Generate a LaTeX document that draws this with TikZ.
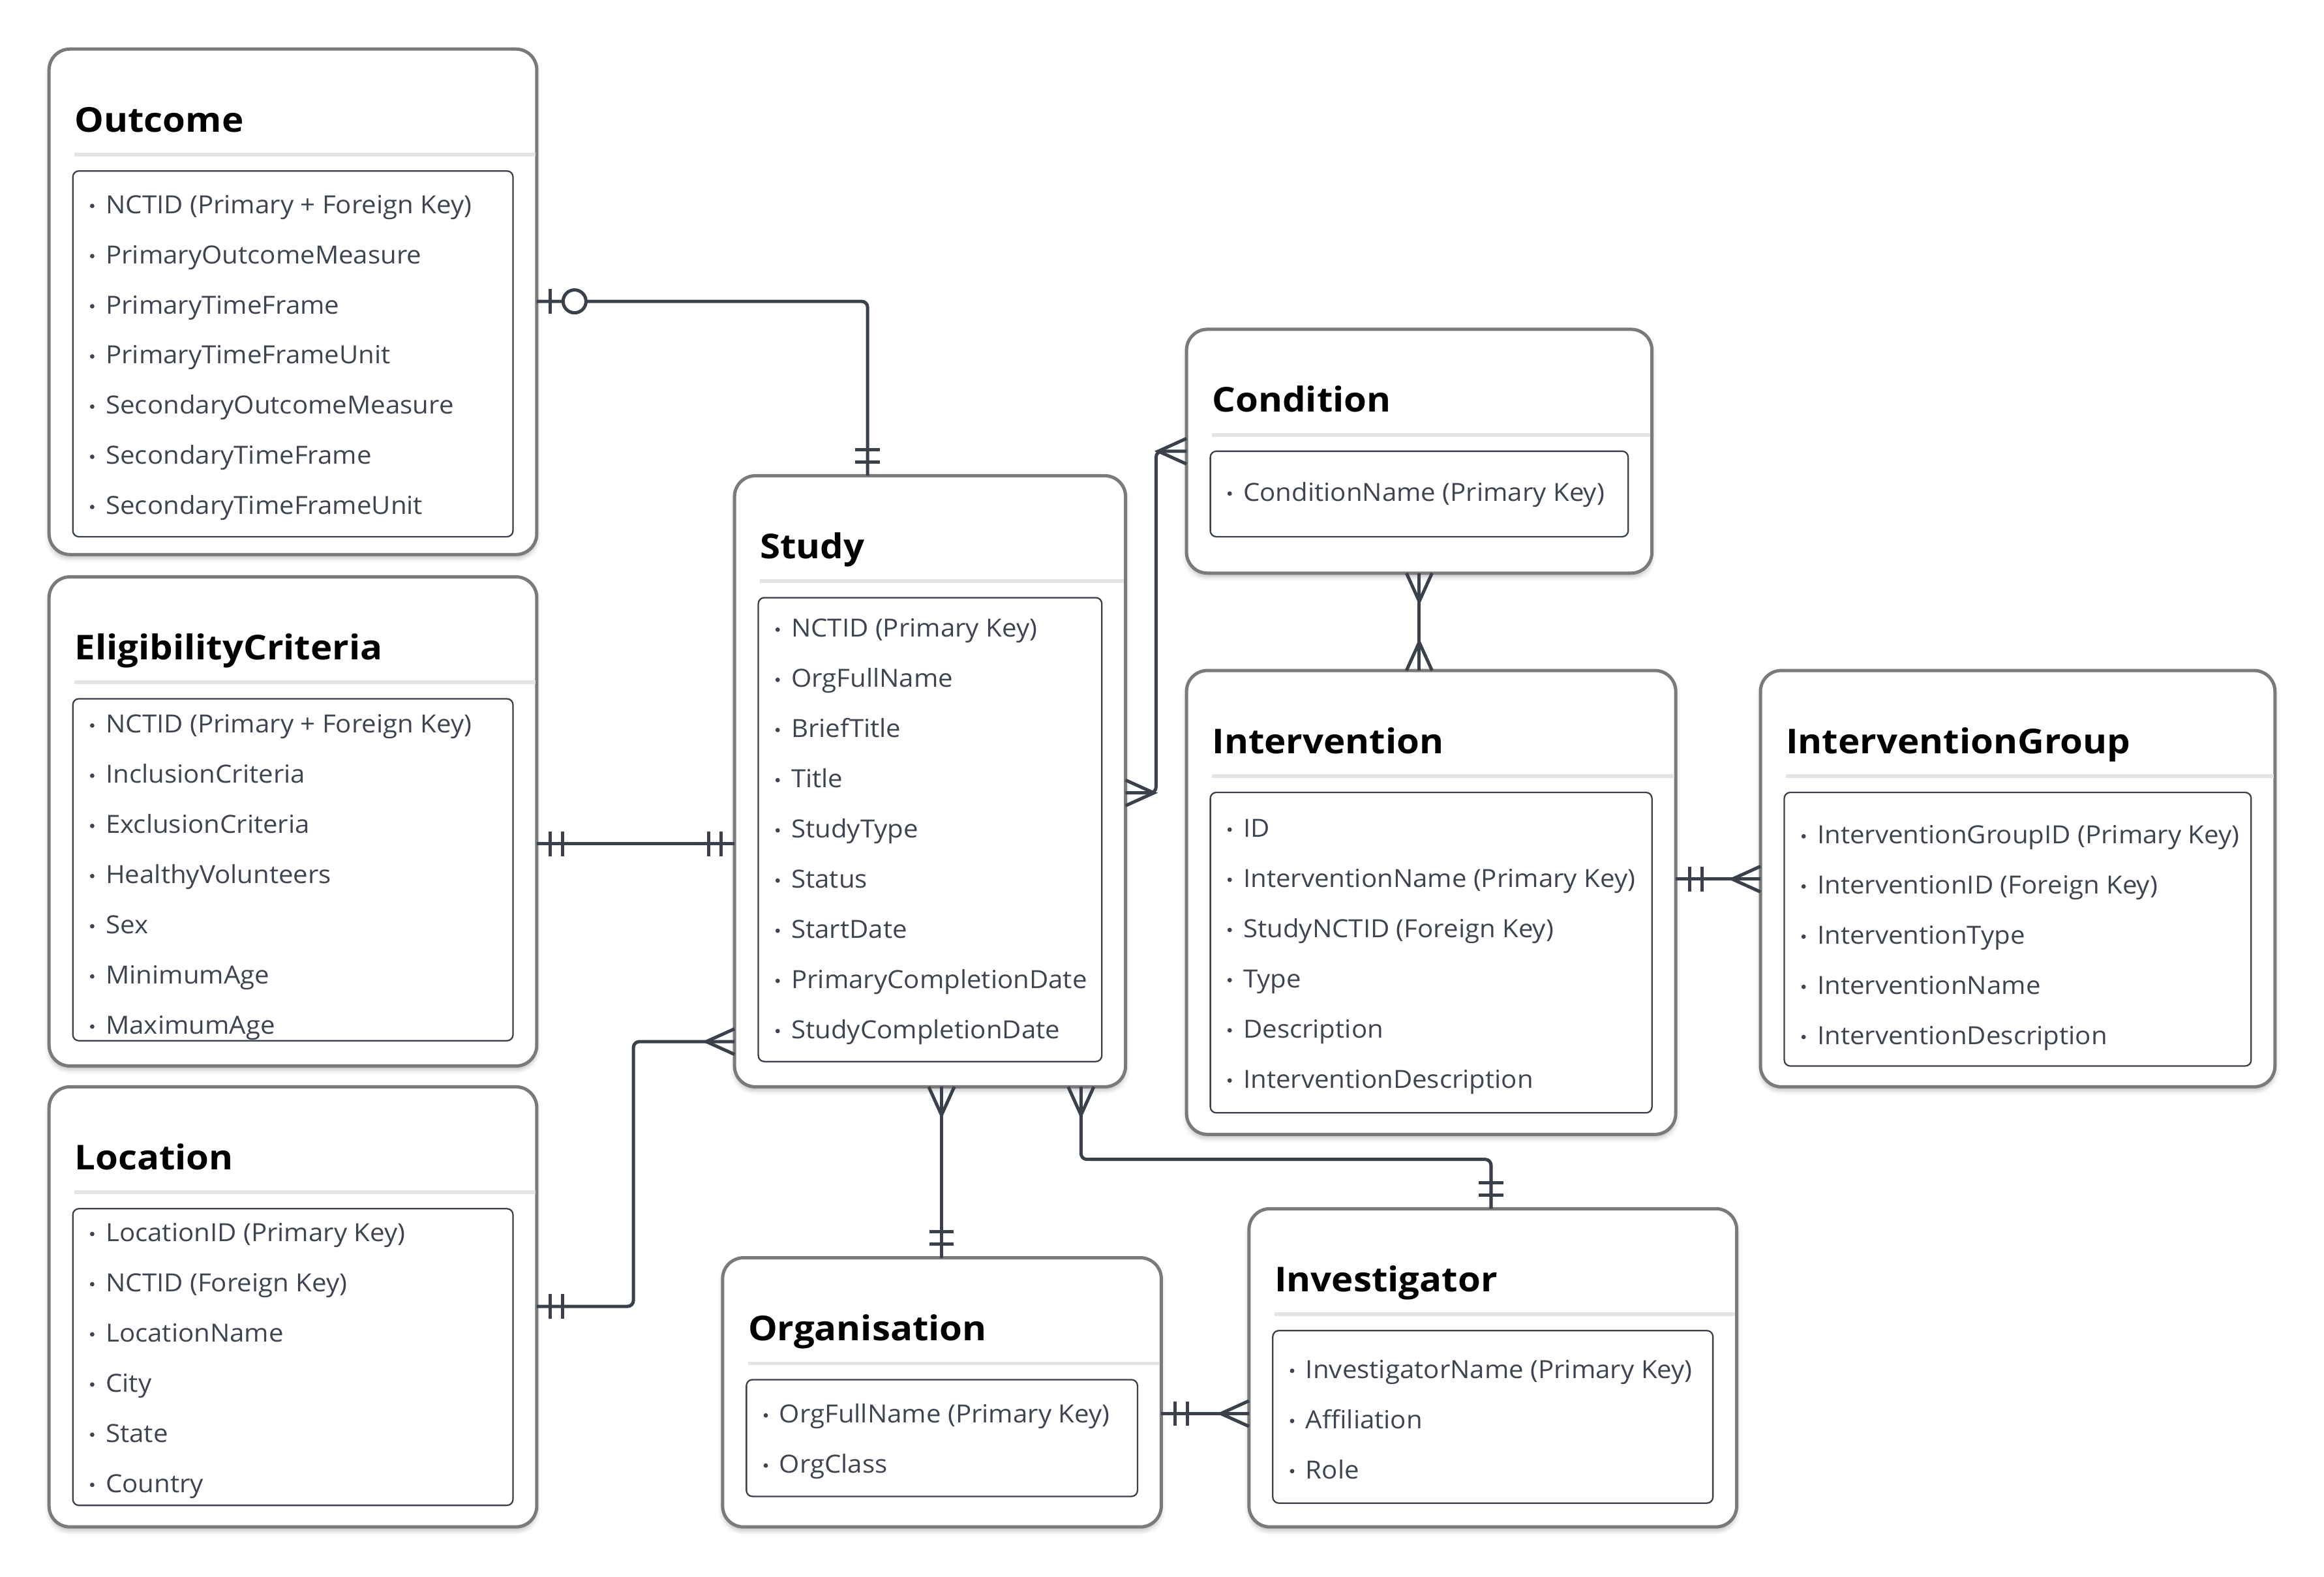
\documentclass[tikz,border=0pt]{standalone}
\usepackage{fontspec}
\setmainfont{Open Sans}
\newfontfamily\fieldfont{Open Sans}[FakeStretch=1.05]
\newfontfamily\headfont{Open Sans}[FakeStretch=1.075]
\usepackage{tikz}
\usetikzlibrary{calc,shadows.blur}

\definecolor{boxgray}{HTML}{7A7A7A}
\definecolor{linedark}{HTML}{3B414B}
\definecolor{sepgray}{HTML}{E4E4E4}
\definecolor{itemgray}{HTML}{3E4450}

\tikzset{
	entity/.style={draw=boxgray, line width=2.2pt, rounded corners=14pt, fill=white,
			inner sep=0pt, outer sep=0pt, anchor=north west,
			blur shadow={shadow xshift=0pt, shadow yshift=-2.5pt, shadow blur radius=3pt, shadow opacity=25}},
	fields/.style={draw=linedark, line width=1pt, rounded corners=4pt, fill=white,
			inner sep=0pt, outer sep=0pt, anchor=north west},
	etitle/.style={anchor=base west, inner sep=0pt, font=\headfont\fontsize{23}{27}\selectfont\bfseries},
	field/.style={anchor=base west, inner sep=0pt, text=itemgray, font=\fieldfont\fontsize{16.8}{20}\selectfont},
	sepline/.style={draw=sepgray, line width=2.5pt},
	rel/.style={draw=linedark, line width=2.2pt, rounded corners=4pt},
	relmark/.style={draw=linedark, line width=2.2pt},
	onebar/.pic={\draw[relmark] (9.2,-8.3) -- (9.2,8.3) (17.5,-8.3) -- (17.5,8.3);},
	crow/.pic={\draw[relmark] (0,-8.6) -- (19,0) -- (0,8.6);},
	zeroone/.pic={\draw[relmark] (9.2,-8.3) -- (9.2,8.3); \draw[relmark, fill=white] (25.4,0) circle (7.7);}
}

% #1 name, #2 title, #3-#6 box, #7 bottom of field box, #8 first field, #9 fields
\newcommand{\entity}[9]{%
	\node[entity, minimum width={#5-#3}, minimum height={#6-#4}] (#1) at (#3,#4) {};
	\draw[sepline] ({#3+17},{#4+71}) -- ({#5-1},{#4+71});
	\node[etitle] (#1-t) at ({#3+17},{#4+55.7}) {#2};
	\node[fields, minimum width={#5-#3-32}, minimum height={#7-#4-82}] (#1-f) at ({#3+16},{#4+82}) {};
	\foreach \txt [count=\i] in {#9} {
		\fill[itemgray] ({#3+29},{#8+(\i-1)*33.75+1}) circle (1.5);
		\node[field] (#1-\i) at ({#3+38},{#8+(\i-1)*33.75+6}) {\txt};
	}
}

\begin{document}
\begin{tikzpicture}[x=1pt, y=-1pt]

\useasboundingbox (0,0) rectangle (1563,1060.3);

% Nodes
\entity{outcome}{Outcome}{33}{33}{361}{373}{361}{137.5}{NCTID (Primary + Foreign Key), PrimaryOutcomeMeasure, PrimaryTimeFrame, PrimaryTimeFrameUnit, SecondaryOutcomeMeasure, SecondaryTimeFrame, SecondaryTimeFrameUnit}
\entity{eligibility}{EligibilityCriteria}{33}{388}{361}{717}{700}{487}{NCTID (Primary + Foreign Key), InclusionCriteria, ExclusionCriteria, HealthyVolunteers, Sex, MinimumAge, MaximumAge}
\entity{location}{Location}{33}{731}{361}{1027}{1012.5}{829}{LocationID (Primary Key), NCTID (Foreign Key), LocationName, City, State, Country}
\entity{study}{Study}{494}{320}{757}{731}{714}{422.5}{NCTID (Primary Key), OrgFullName, BriefTitle, Title, StudyType, Status, StartDate, PrimaryCompletionDate, StudyCompletionDate}
\entity{condition}{Condition}{798}{221.5}{1111}{385.5}{361}{331}{ConditionName (Primary Key)}
\entity{intervention}{Intervention}{798}{451}{1127}{763}{748.5}{557}{ID, InterventionName (Primary Key), StudyNCTID (Foreign Key), Type, Description, InterventionDescription}
\entity{group}{InterventionGroup}{1184}{451}{1530}{731}{717}{561.5}{InterventionGroupID (Primary Key), InterventionID (Foreign Key), InterventionType, InterventionName, InterventionDescription}
\entity{organisation}{Organisation}{486}{846}{781}{1027}{1006.5}{951}{OrgFullName (Primary Key), OrgClass}
\entity{investigator}{Investigator}{840}{813}{1168}{1027}{1011}{921}{InvestigatorName (Primary Key), Affiliation, Role}

% Ends
\coordinate (oc-a) at (outcome.east |- 0,202.7);
\coordinate (oc-b) at (study.north -| 583.5,0);
\coordinate (el-a) at (eligibility.east |- 0,567.6);
\coordinate (el-b) at (study.west |- 0,567.6);
\coordinate (lo-a) at (location.east |- 0,878.7);
\coordinate (lo-b) at (study.west |- 0,700.6);
\coordinate (sc-a) at (study.east |- 0,533.3);
\coordinate (sc-b) at (condition.west |- 0,303.5);
\coordinate (ci-a) at (condition.south -| 954.5,0);
\coordinate (ci-b) at (intervention.north -| 954.5,0);
\coordinate (ig-a) at (intervention.east |- 0,591.3);
\coordinate (ig-b) at (group.west |- 0,591.3);
\coordinate (so-a) at (study.south -| 633.2,0);
\coordinate (so-b) at (organisation.north -| 633.2,0);
\coordinate (sv-a) at (study.south -| 727,0);
\coordinate (sv-b) at (investigator.north -| 1002.8,0);
\coordinate (ov-a) at (organisation.east |- 0,950.8);
\coordinate (ov-b) at (investigator.west |- 0,950.8);

% Relations
\draw[rel] (oc-a) -| (oc-b);
\draw[rel] (el-a) -- (el-b);
\draw[rel] (lo-a) -- ++(65,0) |- (lo-b);
\draw[rel] (sc-a) -- ++(20.5,0) |- (sc-b);
\draw[rel] (ci-a) -- (ci-b);
\draw[rel] (ig-a) -- (ig-b);
\draw[rel] (so-a) -- (so-b);
\draw[rel] (sv-a) -- ++(0,48.8) -| (sv-b);
\draw[rel] (ov-a) -- (ov-b);

% Markers
\pic at (oc-a) {zeroone};
\pic[rotate=90] at (oc-b) {onebar};
\pic at (el-a) {onebar};
\pic[rotate=180] at (el-b) {onebar};
\pic at (lo-a) {onebar};
\pic[rotate=180] at (lo-b) {crow};
\pic at (sc-a) {crow};
\pic[rotate=180] at (sc-b) {crow};
\pic[rotate=-90] at (ci-a) {crow};
\pic[rotate=90] at (ci-b) {crow};
\pic at (ig-a) {onebar};
\pic[rotate=180] at (ig-b) {crow};
\pic[rotate=-90] at (so-a) {crow};
\pic[rotate=90] at (so-b) {onebar};
\pic[rotate=-90] at (sv-a) {crow};
\pic[rotate=90] at (sv-b) {onebar};
\pic at (ov-a) {onebar};
\pic[rotate=180] at (ov-b) {crow};

\end{tikzpicture}
\end{document}
